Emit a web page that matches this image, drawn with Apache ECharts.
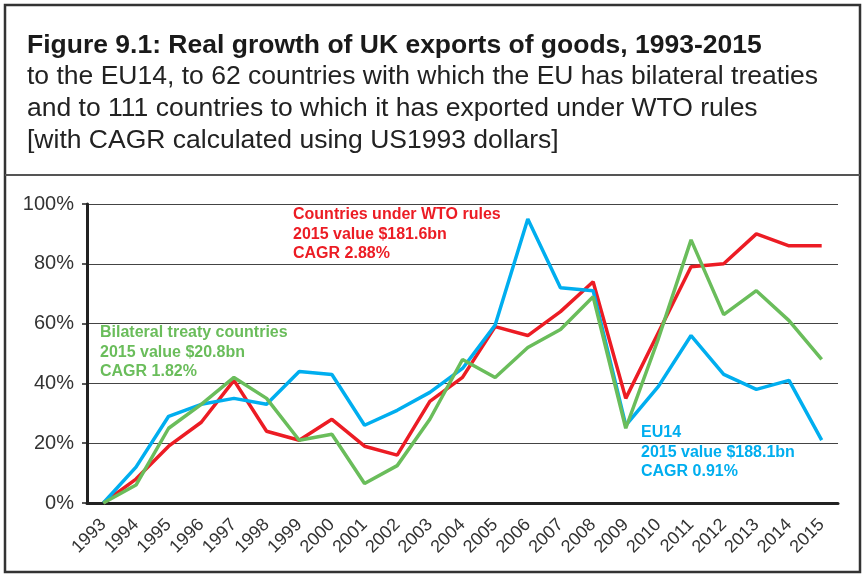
<!DOCTYPE html>
<html>
<head>
<meta charset="utf-8">
<script src="https://cdn.jsdelivr.net/npm/echarts@6/dist/echarts.min.js"></script>
<style>
  html, body { margin: 0; padding: 0; background: #fff; }
  #main { width: 865px; height: 575px; }
</style>
</head>
<body>
<div id="main"></div>
<script>
var years = ['1993','1994','1995','1996','1997','1998','1999','2000','2001','2002','2003','2004',
             '2005','2006','2007','2008','2009','2010','2011','2012','2013','2014','2015'];
// real growth since 1993, %
var eu14 = [0, 12, 29, 33, 35, 33, 44, 43, 26, 31, 37, 45, 59.5, 95, 72, 71, 26, 39, 56, 43, 38, 41, 21];
var wto = [0, 8, 19, 27, 41, 24, 21, 28, 19, 16, 34, 42, 59, 56, 64, 74, 35, 57, 79, 80, 90, 86, 86];
var bilateral = [0, 6, 25, 33, 42, 35, 21, 23, 6.5, 12.5, 28, 48, 42, 52, 58, 69, 25, 55, 88, 63, 71, 61, 48];
var yTicks = [0, 20, 40, 60, 80, 100];

var RED = '#ec1c24', BLUE = '#00aeef', GREEN = '#6abd5b';
var FONT = '"Liberation Sans", Arial, sans-serif';

var myChart = echarts.init(document.getElementById('main'));

function note(x, y, lines, color) {
    return {
        type: 'text', left: x, top: y,
        style: { text: lines.join('\n'), fill: color, font: 'bold 16px ' + FONT, lineHeight: 19.5 }
    };
}

var option = {
    animation: false,
    backgroundColor: '#fff',
    title: {
        left: 22, top: 26,
        text: 'Figure 9.1: Real growth of UK exports of goods, 1993-2015',
        subtext: 'to the EU14, to 62 countries with which the EU has bilateral treaties\nand to 111 countries to which it has exported under WTO rules\n[with CAGR calculated using US1993 dollars]',
        itemGap: 0,
        textStyle: { fontFamily: FONT, fontSize: 26.5, fontWeight: 'bold', color: '#1a1a1a', lineHeight: 30 },
        subtextStyle: { fontFamily: FONT, fontSize: 26.5, color: '#222', lineHeight: 32 }
    },
    graphic: [
        { type: 'rect', shape: { x: 5, y: 5, width: 855, height: 567 }, style: { fill: null, stroke: '#333', lineWidth: 2.5 } },
        { type: 'line', shape: { x1: 5, y1: 175, x2: 860, y2: 175 }, style: { stroke: '#555', lineWidth: 2 } },
        note(293, 205, ['Countries under WTO rules', '2015 value $181.6bn', 'CAGR 2.88%'], RED),
        note(100, 323, ['Bilateral treaty countries', '2015 value $20.8bn', 'CAGR 1.82%'], GREEN),
        note(641, 423, ['EU14', '2015 value $188.1bn', 'CAGR 0.91%'], BLUE)
    ],
    grid: { left: 87, right: 27, top: 204, bottom: 72 },
    xAxis: {
        type: 'category',
        data: years,
        boundaryGap: true,
        axisLine: { lineStyle: { color: '#222', width: 3 } },
        axisTick: { length: 7, lineStyle: { color: '#222', width: 1.5 } },
        axisLabel: { rotate: 45, interval: 0, fontFamily: FONT, fontSize: 18, color: '#333', margin: 19 }
    },
    yAxis: {
        type: 'value',
        min: yTicks[0], max: yTicks[yTicks.length - 1], interval: 20,
        axisLine: { show: true, lineStyle: { color: '#222', width: 3 } },
        axisTick: { show: true, length: 5, lineStyle: { color: '#222', width: 1.5 } },
        axisLabel: { formatter: '{value}%', fontFamily: FONT, fontSize: 20, color: '#333', margin: 13 },
        splitLine: { lineStyle: { color: '#444', width: 1.2 } }
    },
    series: [
        { name: 'EU14', type: 'line', data: eu14, showSymbol: false, lineStyle: { color: BLUE, width: 3.5 }, z: 3 },
        { name: 'Bilateral treaty countries', type: 'line', data: bilateral, showSymbol: false, lineStyle: { color: GREEN, width: 3.5 }, z: 4 },
        { name: 'Countries under WTO rules', type: 'line', data: wto, showSymbol: false, lineStyle: { color: RED, width: 3.5 }, z: 2 }
    ]
};

myChart.setOption(option);
</script>
</body>
</html>
